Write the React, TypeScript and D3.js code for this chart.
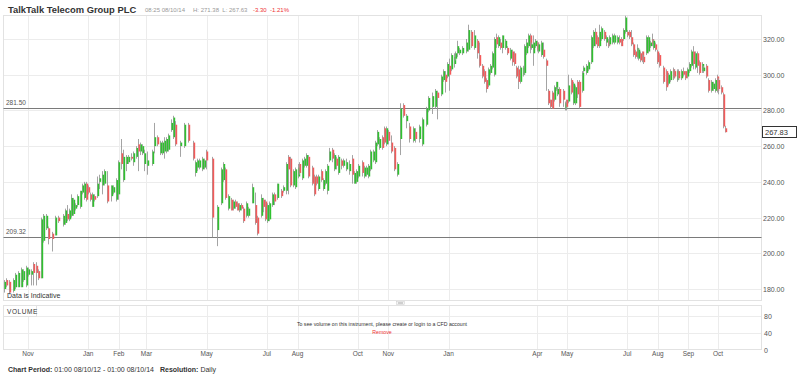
import React from 'react';
import * as d3 from 'd3';

// ---------- data ----------
const START_DATE = '2012-10-08';
const END_DATE = '2014-10-08';
// [calendar day offset from START_DATE, open, high, low, close]
const CANDLES: [number, number, number, number, number][] = [
  [0, 180, 185, 178, 184], [2, 185, 186, 181, 182], [5, 184, 185, 177, 178], [9, 179, 186, 178, 185],
  [11, 181, 189, 180, 188], [14, 181, 190, 181, 189], [17, 181, 192, 181, 191], [19, 185, 191, 184, 190],
  [22, 182, 193, 181, 192], [24, 188, 192, 187, 191], [27, 188, 191, 182, 190], [29, 194, 195, 182, 189],
  [32, 193, 195, 182, 189], [34, 190, 191, 185, 186], [37, 186, 220, 186, 219], [39, 207, 222, 206, 221],
  [42, 214, 222, 213, 221], [44, 214, 215, 205, 208], [48, 211, 212, 201, 208], [51, 210, 221, 210, 220],
  [54, 220, 221, 217, 218], [59, 216, 222, 215, 221], [61, 217, 225, 216, 224], [64, 222, 227, 218, 219],
  [66, 219, 225, 218, 224], [68, 221, 233, 220, 231], [70, 222, 231, 221, 230], [72, 225, 228, 224, 227],
  [74, 227, 233, 226, 232], [77, 226, 235, 225, 235], [79, 234, 239, 233, 238], [81, 231, 240, 230, 239],
  [83, 239, 240, 229, 230], [85, 237, 238, 233, 234], [87, 233, 234, 229, 230], [89, 226, 234, 226, 233],
  [91, 232, 233, 229, 230], [94, 232, 243, 231, 239], [96, 240, 244, 236, 242], [99, 238, 246, 233, 244],
  [101, 239, 247, 238, 246], [104, 238, 246, 228, 229], [108, 232, 238, 229, 238], [110, 234, 238, 233, 237],
  [113, 230, 242, 229, 241], [115, 233, 252, 230, 251], [118, 256, 264, 247, 250], [120, 241, 258, 240, 254],
  [123, 250, 255, 246, 254], [125, 251, 255, 250, 254], [128, 254, 256, 252, 253], [130, 251, 257, 249, 256],
  [133, 254, 260, 253, 259], [135, 261, 264, 246, 257], [137, 257, 262, 255, 261], [139, 256, 261, 255, 260],
  [142, 250, 258, 246, 256], [145, 249, 257, 244, 252], [150, 250, 258, 249, 257], [152, 260, 273, 256, 265],
  [155, 265, 266, 260, 261], [158, 256, 263, 255, 262], [160, 256, 263, 255, 262], [162, 257, 265, 253, 263],
  [164, 257, 265, 256, 264], [166, 258, 267, 257, 266], [169, 269, 275, 268, 273], [171, 265, 277, 264, 276],
  [173, 272, 274, 260, 261], [178, 260, 263, 254, 262], [182, 260, 273, 259, 272], [186, 272, 273, 262, 263],
  [191, 262, 263, 252, 253], [193, 245, 252, 243, 251], [195, 248, 253, 246, 252], [197, 248, 253, 247, 252],
  [200, 247, 254, 246, 253], [202, 248, 253, 247, 252], [204, 257, 258, 247, 252], [210, 253, 254, 209, 220],
  [215, 213, 227, 204, 226], [219, 228, 248, 227, 247], [222, 241, 251, 240, 250], [224, 247, 248, 230, 231],
  [227, 225, 233, 224, 232], [230, 230, 231, 224, 224], [232, 225, 230, 224, 229], [234, 229, 230, 225, 226],
  [236, 228, 229, 224, 224], [238, 224, 228, 223, 227], [240, 227, 228, 224, 225], [242, 225, 226, 217, 218],
  [245, 221, 229, 220, 228], [247, 221, 226, 220, 225], [251, 228, 239, 228, 237], [254, 227, 234, 216, 217],
  [256, 220, 221, 210, 211], [260, 221, 233, 220, 231], [262, 230, 231, 223, 226], [264, 229, 230, 218, 219],
  [266, 218, 228, 217, 227], [268, 219, 229, 218, 228], [271, 227, 234, 226, 233], [273, 233, 234, 227, 229],
  [276, 231, 239, 230, 239], [280, 235, 236, 231, 232], [282, 235, 238, 234, 237], [285, 235, 251, 233, 250],
  [287, 254, 255, 233, 247], [289, 253, 254, 237, 238], [292, 238, 247, 237, 246], [294, 237, 248, 236, 247],
  [297, 243, 250, 242, 248], [299, 250, 251, 244, 245], [302, 242, 253, 241, 252], [304, 249, 254, 248, 253],
  [306, 249, 256, 248, 255], [308, 254, 255, 242, 243], [312, 248, 249, 238, 239], [314, 243, 244, 232, 233],
  [316, 243, 244, 238, 239], [318, 236, 244, 235, 243], [321, 246, 247, 240, 241], [323, 236, 242, 235, 241],
  [325, 239, 247, 238, 246], [327, 235, 250, 233, 249], [329, 252, 259, 251, 257], [332, 258, 259, 251, 253],
  [334, 247, 256, 246, 255], [336, 253, 254, 247, 249], [338, 245, 255, 244, 254], [341, 252, 253, 247, 249],
  [343, 249, 253, 248, 252], [346, 247, 253, 246, 251], [349, 246, 252, 244, 250], [352, 253, 255, 239, 244],
  [354, 239, 246, 239, 245], [356, 240, 247, 239, 246], [358, 243, 250, 242, 249], [362, 251, 252, 243, 245],
  [364, 243, 249, 242, 248], [366, 244, 249, 243, 248], [368, 243, 250, 242, 249], [370, 247, 258, 246, 257],
  [373, 252, 258, 251, 257], [375, 251, 263, 250, 262], [378, 261, 269, 260, 268], [380, 259, 265, 258, 264],
  [383, 265, 266, 258, 259], [385, 270, 271, 261, 262], [387, 261, 271, 260, 270], [389, 268, 269, 261, 263],
  [392, 262, 266, 256, 257], [395, 259, 260, 246, 247], [398, 244, 251, 243, 250], [401, 264, 284, 255, 281],
  [404, 283, 284, 276, 277], [407, 274, 278, 270, 277], [410, 271, 273, 262, 264], [414, 263, 271, 262, 270],
  [416, 268, 270, 262, 264], [420, 264, 272, 262, 271], [423, 261, 276, 260, 275], [427, 272, 282, 271, 281],
  [429, 280, 288, 279, 287], [433, 282, 290, 278, 288], [436, 282, 292, 281, 291], [438, 290, 291, 275, 287],
  [442, 289, 300, 288, 299], [444, 297, 303, 296, 302], [446, 300, 302, 290, 296], [448, 299, 307, 298, 306],
  [450, 305, 309, 291, 300], [452, 303, 312, 302, 311], [455, 306, 312, 304, 310], [457, 309, 313, 308, 312],
  [459, 312, 319, 310, 316], [461, 312, 315, 311, 314], [464, 312, 316, 311, 315], [468, 313, 320, 312, 318],
  [470, 314, 328, 313, 325], [473, 324, 325, 315, 316], [476, 315, 325, 314, 322], [479, 319, 320, 309, 312],
  [481, 311, 318, 304, 305], [484, 305, 306, 298, 299], [486, 302, 303, 295, 296], [488, 297, 298, 290, 292],
  [490, 294, 304, 293, 303], [492, 301, 306, 300, 305], [494, 304, 313, 303, 312], [496, 300, 321, 299, 320],
  [498, 321, 323, 315, 317], [500, 316, 322, 315, 321], [502, 318, 320, 314, 315], [504, 315, 322, 312, 322],
  [507, 315, 320, 314, 319], [509, 315, 316, 311, 312], [512, 309, 315, 308, 314], [514, 313, 314, 305, 307],
  [516, 312, 313, 305, 306], [518, 304, 305, 298, 299], [520, 303, 305, 292, 296], [522, 296, 305, 295, 304],
  [525, 300, 305, 299, 304], [526, 301, 317, 300, 316], [528, 312, 320, 311, 318], [530, 316, 323, 315, 322],
  [532, 322, 323, 312, 315], [534, 315, 318, 314, 317], [536, 312, 322, 305, 318], [538, 316, 320, 315, 319],
  [540, 318, 319, 313, 314], [541, 313, 318, 312, 317], [544, 311, 319, 310, 318], [546, 314, 318, 309, 310],
  [549, 308, 309, 291, 305], [551, 291, 292, 283, 284], [553, 286, 286, 281, 282], [555, 290, 291, 281, 281],
  [557, 286, 294, 285, 293], [559, 292, 296, 291, 296], [560, 289, 293, 288, 292], [562, 292, 293, 282, 284],
  [566, 291, 292, 282, 286], [568, 281, 285, 280, 284], [569, 286, 286, 280, 282], [571, 285, 300, 284, 294],
  [574, 297, 298, 289, 290], [576, 284, 296, 283, 295], [578, 284, 294, 283, 293], [580, 296, 297, 287, 289],
  [582, 296, 297, 281, 282], [585, 291, 302, 290, 301], [586, 302, 305, 301, 304], [589, 301, 306, 300, 305],
  [591, 303, 308, 302, 307], [594, 307, 322, 306, 321], [596, 316, 325, 315, 324], [598, 324, 326, 316, 317],
  [600, 321, 322, 315, 316], [602, 316, 328, 315, 324], [604, 320, 327, 319, 326], [607, 324, 325, 319, 320],
  [609, 318, 322, 316, 321], [611, 319, 320, 315, 316], [613, 317, 322, 316, 321], [616, 318, 323, 317, 322],
  [618, 318, 323, 317, 322], [621, 318, 322, 317, 321], [623, 320, 322, 317, 318], [625, 320, 321, 316, 316],
  [627, 320, 326, 319, 325], [629, 324, 333, 323, 332], [631, 324, 325, 321, 322], [633, 324, 325, 320, 321],
  [635, 321, 325, 316, 317], [637, 317, 318, 310, 311], [639, 313, 314, 309, 310], [641, 310, 317, 309, 315],
  [642, 309, 315, 308, 314], [644, 312, 313, 307, 308], [646, 313, 313, 307, 308], [647, 310, 311, 306, 307],
  [650, 312, 322, 311, 321], [652, 313, 322, 312, 321], [654, 316, 319, 315, 318], [656, 320, 323, 316, 317],
  [657, 315, 320, 314, 319], [659, 317, 318, 313, 314], [661, 313, 314, 306, 307], [663, 311, 312, 304, 305],
  [667, 304, 305, 295, 296], [670, 302, 303, 291, 293], [672, 295, 301, 294, 300], [674, 297, 303, 296, 302],
  [677, 303, 304, 297, 298], [678, 302, 303, 298, 299], [681, 297, 303, 296, 302], [682, 302, 303, 297, 298],
  [685, 298, 303, 297, 302], [687, 302, 304, 299, 300], [689, 302, 302, 297, 298], [692, 299, 304, 298, 303],
  [694, 302, 307, 301, 306], [696, 305, 314, 304, 313], [698, 313, 316, 303, 306], [700, 304, 313, 303, 312],
  [702, 312, 313, 301, 305], [704, 307, 308, 300, 301], [707, 302, 307, 301, 306], [708, 302, 305, 301, 304],
  [711, 305, 306, 298, 299], [713, 297, 298, 290, 291], [716, 291, 297, 290, 296], [718, 292, 296, 291, 295],
  [720, 291, 298, 290, 297], [722, 299, 300, 290, 291], [723, 297, 298, 289, 292], [726, 293, 294, 289, 290],
  [728, 289, 290, 270, 271], [730, 270, 271.38, 267.63, 267.83],
];
const PRICE_TICKS = [180, 200, 220, 240, 260, 280, 300, 320];
const VOLUME_TICKS = [0, 40, 80];
const MONTH_TICKS: [string, string][] = [
  ['2012-11-01', 'Nov'], ['2013-01-01', 'Jan'], ['2013-02-01', 'Feb'], ['2013-03-01', 'Mar'],
  ['2013-05-01', 'May'], ['2013-07-01', 'Jul'], ['2013-08-01', 'Aug'], ['2013-10-01', 'Oct'],
  ['2013-11-01', 'Nov'], ['2014-01-01', 'Jan'], ['2014-04-01', 'Apr'], ['2014-05-01', 'May'],
  ['2014-07-01', 'Jul'], ['2014-08-01', 'Aug'], ['2014-09-01', 'Sep'], ['2014-10-01', 'Oct'],
];
const REF_LINES = [281.5, 209.32];
const LAST_PRICE = 267.83;
const TITLE = 'TalkTalk Telecom Group PLC';
const TIME_TEXT = '08:25 08/10/14';
const HL_TEXT = 'H: 271.38  L: 267.63';
const CHANGE_TEXT = '-3.30  -1.21%';

// ---------- layout ----------
const W = 800, H = 376;
const PL = 3.5, PR = 761.5;
const MAIN_T = 15.5, MAIN_B = 300.5;
const VOL_T = 305.5, VOL_B = 349.5;
const FONT = '"Liberation Sans", Arial, Helvetica, sans-serif';
const GREEN = '#2fc22f';
const RED = '#f45a5a';
const WICK = '#9a9a9a';
const GRID = '#ececec';

export default function App() {
  const parse = d3.timeParse('%Y-%m-%d');
  const start = parse(START_DATE)!;
  const end = parse(END_DATE)!;
  const x = d3.scaleTime().domain([start, end]).range([4.3, 725]);
  const y = d3.scaleLinear().domain([180, 320]).range([289, 39]);
  const yv = d3.scaleLinear().domain([0, 80]).range([VOL_B, 315.5]);

  const candles = CANDLES.map(([d, o, h, l, c]) => ({ date: d3.timeDay.offset(start, d), o, h, l, c }));
  const months = MONTH_TICKS.map(([d, label]) => ({ date: parse(d)!, label }));

  return (
    <svg width={W} height={H} style={{ position: 'absolute', left: 0, top: 0, background: '#fff' }} fontFamily={FONT}>
      <rect x={0} y={0} width={W} height={H} fill="#fff" />
      {/* header */}
      <text x={8} y={12.5} fontSize={9.4} fontWeight="bold" fill="#333">{TITLE}</text>
      <text x={145} y={11.5} fontSize={6} fill="#999">{TIME_TEXT}</text>
      <text x={193} y={11.5} fontSize={6} fill="#999" style={{ whiteSpace: 'pre' }}>{HL_TEXT}</text>
      <text x={253} y={11.5} fontSize={6} fill="#e33" style={{ whiteSpace: 'pre' }}>{CHANGE_TEXT}</text>

      {/* main panel grid */}
      {PRICE_TICKS.map(t => (
        <line key={'hg' + t} x1={PL} x2={PR} y1={Math.round(y(t)) + 0.5} y2={Math.round(y(t)) + 0.5} stroke={GRID} />
      ))}
      {months.map((m, i) => (
        <g key={'vg' + i}>
          <line x1={Math.round(x(m.date)) + 0.5} x2={Math.round(x(m.date)) + 0.5} y1={MAIN_T} y2={MAIN_B} stroke={GRID} />
          <line x1={Math.round(x(m.date)) + 0.5} x2={Math.round(x(m.date)) + 0.5} y1={VOL_T} y2={VOL_B} stroke={GRID} />
          <text x={x(m.date)} y={356} fontSize={6.5} fill="#555" textAnchor="middle">{m.label}</text>
        </g>
      ))}
      <rect x={PL} y={MAIN_T} width={PR - PL} height={MAIN_B - MAIN_T} fill="none" stroke="#e2e2e2" />

      {/* price labels */}
      {PRICE_TICKS.map(t => (
        <text key={'yl' + t} x={763} y={y(t) + 3} fontSize={7} fill="#555">{t.toFixed(2)}</text>
      ))}

      {/* reference lines */}
      {REF_LINES.map(v => (
        <g key={'ref' + v}>
          <line x1={PL} x2={PR} y1={Math.round(y(v)) + 0.5} y2={Math.round(y(v)) + 0.5} stroke="#7a7a7a" />
          <text x={6} y={y(v) - 3} fontSize={6.5} fill="#555">{v.toFixed(2)}</text>
        </g>
      ))}

      {/* candles */}
      {candles.map((k, i) => {
        const cx = Math.round(x(k.date));
        const top = y(Math.max(k.o, k.c));
        const bot = y(Math.min(k.o, k.c));
        return (
          <g key={'c' + i}>
            <line x1={cx + 0.5} x2={cx + 0.5} y1={y(k.h)} y2={y(k.l)} stroke={WICK} strokeWidth={0.9} />
            <rect x={cx + 0.6} y={top} width={1.6} height={Math.max(1, bot - top)} fill={k.c >= k.o ? GREEN : RED} />
          </g>
        );
      })}

      {/* last price box */}
      <rect x={762.5} y={Math.round(y(LAST_PRICE)) - 5.5} width={34} height={11} fill="#fff" stroke="#333" />
      <text x={765} y={y(LAST_PRICE) + 3} fontSize={7.5} fill="#333">{LAST_PRICE.toFixed(2)}</text>

      <text x={7} y={298} fontSize={7} fill="#333">Data is Indicative</text>

      {/* handle */}
      <rect x={396.5} y={301.5} width={8} height={3} fill="#f4f4f4" stroke="#ccc" strokeWidth={0.5} />
      <line x1={398} x2={403} y1={302.5} y2={302.5} stroke="#aaa" strokeWidth={0.5} />
      <line x1={398} x2={403} y1={303.5} y2={303.5} stroke="#aaa" strokeWidth={0.5} />

      {/* volume panel */}
      {VOLUME_TICKS.map(t => (
        <g key={'vt' + t}>
          {t > 0 && <line x1={PL} x2={PR} y1={Math.round(yv(t)) + 0.5} y2={Math.round(yv(t)) + 0.5} stroke={GRID} />}
          <text x={764} y={yv(t) + 3} fontSize={7} fill="#555">{t}</text>
        </g>
      ))}
      <rect x={PL} y={VOL_T} width={PR - PL} height={VOL_B - VOL_T} fill="none" stroke="#e2e2e2" />
      <rect x={PL} y={VOL_T} width={33} height={11} fill="#fff" stroke="#e2e2e2" />
      <text x={7} y={314} fontSize={6.5} fill="#333" letterSpacing={0.6}>VOLUME</text>
      <text x={382} y={326} fontSize={5.2} fill="#333" textAnchor="middle">To see volume on this instrument, please create or login to a CFD account</text>
      <text x={382} y={334} fontSize={5.2} fill="#e33" textAnchor="middle">Remove</text>

      {/* footer */}
      <text x={8} y={372} fontSize={7} fill="#333">
        <tspan fontWeight="bold">Chart Period:</tspan>
        <tspan> 01:00 08/10/12 - 01:00 08/10/14</tspan>
        <tspan dx={6} fontWeight="bold">Resolution:</tspan>
        <tspan> Daily</tspan>
      </text>
    </svg>
  );
}
